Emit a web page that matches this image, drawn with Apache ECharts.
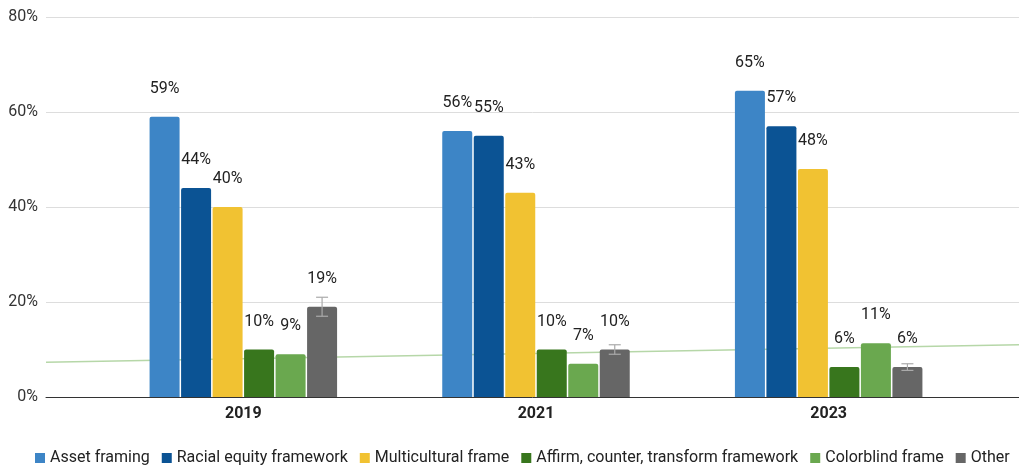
<!DOCTYPE html>
<html>
<head>
<meta charset="utf-8">
<script src="https://cdn.jsdelivr.net/npm/echarts@6/dist/echarts.min.js"></script>
<style>
  html, body { margin: 0; padding: 0; background: #fff; }
  #chart { width: 1019px; height: 465px; }
</style>
</head>
<body>
<div id="chart"></div>
<script>
// data
const years = ["2019", "2021", "2023"];
const seriesNames = ["Asset framing", "Racial equity framework", "Multicultural frame",
  "Affirm, counter, transform framework", "Colorblind frame", "Other"];
const assetFraming = [59, 56, 64.5];
const racialEquity = [44, 55, 57];
const multicultural = [40, 43, 48];
const affirmCounter = [10, 10, 6.3];
const colorblind = [9, 7, 11.3];
const other = [19, 10, 6.3];
const otherError = [2, 1, 0.7];      // +/- around "Other"
const trendEnds = [7.3, 11.0];      // colorblind trendline at left / right edge
const yTicks = [0, 20, 40, 60, 80];

const colors = ["#3d85c6", "#0b5394", "#f1c232", "#38761d", "#6aa84f", "#666666"];
const values = [assetFraming, racialEquity, multicultural, affirmCounter, colorblind, other];
const barW = 30, gapPx = 1.5;
const font = "Roboto, 'Noto Sans', sans-serif";

const barSeries = values.map((data, i) => ({
  name: seriesNames[i],
  type: "bar",
  xAxisIndex: 1,
  yAxisIndex: 1,
  data: data,
  barWidth: barW,
  barGap: "5%",
  itemStyle: { color: colors[i], borderRadius: [2, 2, 0, 0] },
  label: {
    show: true, position: "top", distance: 20,
    formatter: p => Math.round(p.value) + "%",
    color: "#222", fontSize: 16, fontFamily: font
  }
}));

const errorSeries = {
  type: "custom",
  xAxisIndex: 1,
  yAxisIndex: 1,
  silent: true,
  z: 5,
  data: other.map((v, i) => [i, v - otherError[i], v + otherError[i]]),
  renderItem: function (params, api) {
    const c = api.value(0);
    const lo = api.coord([c, api.value(1)]);
    const hi = api.coord([c, api.value(2)]);
    const x = lo[0] + 2.5 * (barW + gapPx);
    const cap = 6;
    const st = { stroke: "#aaaaaa", lineWidth: 1.2 };
    return {
      type: "group",
      children: [
        { type: "line", shape: { x1: x, y1: lo[1], x2: x, y2: hi[1] }, style: st },
        { type: "line", shape: { x1: x - cap, y1: lo[1], x2: x + cap, y2: lo[1] }, style: st },
        { type: "line", shape: { x1: x - cap, y1: hi[1], x2: x + cap, y2: hi[1] }, style: st }
      ]
    };
  }
};

const option = {
  backgroundColor: "#fff",
  animation: false,
  textStyle: { fontFamily: font },
  grid: [
    { left: 46, right: 0, top: 17, bottom: 68 },
    { left: 97, right: 44, top: 17, bottom: 68 }
  ],
  xAxis: [
    {
      gridIndex: 0, type: "value", min: 0, max: 1,
      axisLine: { show: true, lineStyle: { color: "#333", width: 1 } },
      axisTick: { show: false }, axisLabel: { show: false }, splitLine: { show: false }
    },
    {
      gridIndex: 1, type: "category", data: years,
      axisLine: { show: false }, axisTick: { show: false },
      axisLabel: { color: "#222", fontSize: 16, fontWeight: "bold", margin: 9, fontFamily: font }
    }
  ],
  yAxis: [
    {
      gridIndex: 0, type: "value", min: yTicks[0], max: yTicks[yTicks.length - 1], interval: 20,
      axisLine: { show: false }, axisTick: { show: false },
      axisLabel: { formatter: "{value}%", color: "#333", fontSize: 16, margin: 8, fontFamily: font },
      splitLine: { lineStyle: { color: "#dddddd", width: 1 } }
    },
    {
      gridIndex: 1, type: "value", min: yTicks[0], max: yTicks[yTicks.length - 1],
      show: false, splitLine: { show: false }
    }
  ],
  legend: {
    data: seriesNames,
    top: 450,
    left: 35,
    padding: 0,
    icon: "rect",
    itemWidth: 10,
    itemHeight: 10,
    itemGap: 12,
    textStyle: { color: "#222", fontSize: 16, fontFamily: font }
  },
  series: [
    {
      type: "line",
      xAxisIndex: 0,
      yAxisIndex: 0,
      data: [[0, trendEnds[0]], [1, trendEnds[1]]],
      symbol: "none",
      silent: true,
      z: 1,
      lineStyle: { color: "#b6d7a8", width: 1.5 }
    }
  ].concat(barSeries, [errorSeries])
};

const myChart = echarts.init(document.getElementById("chart"));
myChart.setOption(option);
</script>
</body>
</html>
